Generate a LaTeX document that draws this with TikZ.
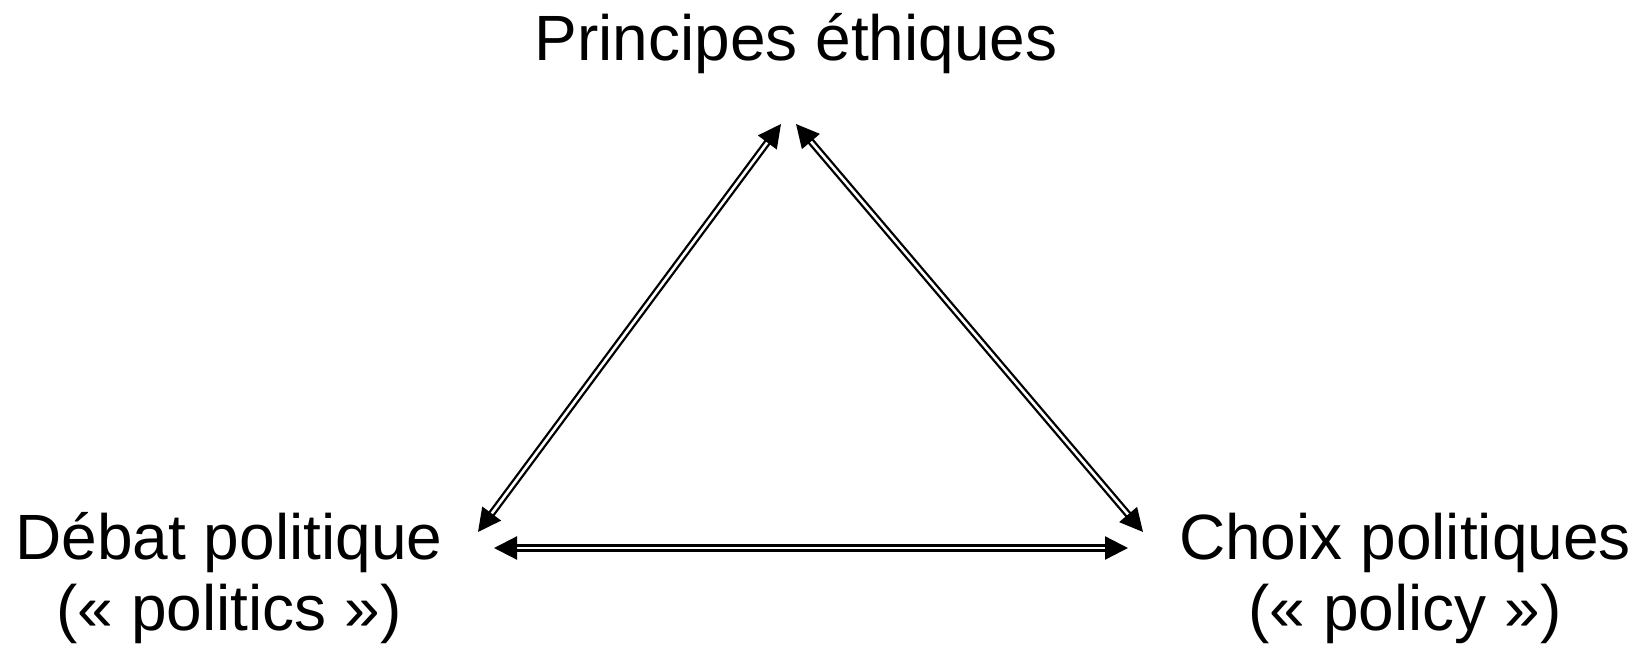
\documentclass[tikz,border=0pt]{standalone}
\usepackage{fontspec}
\setmainfont{Liberation Sans}
\usetikzlibrary{arrows.meta}
\begin{document}
\begin{tikzpicture}[x=1pt,y=-1pt,
  lbl/.style={anchor=base,inner sep=0pt,font=\fontsize{64}{70}\selectfont},
  dbl/.style={double,line width=2.3pt,double distance=2.6pt,
    {Triangle[length=23pt,width=23pt]}-{Triangle[length=23pt,width=23pt]}}]
\useasboundingbox (0,0) rectangle (1645,650);
\node[lbl] (eth) at (796,61) {Principes éthiques};
\node[lbl] (deb) at (229,559) {Débat politique};
\node[lbl] (deb2) at (229,630) {(« politics »)};
\node[lbl] (cho) at (1405,559) {Choix politiques};
\node[lbl] (cho2) at (1405,630) {(« policy »)};
\coordinate (ethL) at (781,124);
\coordinate (ethR) at (796,124);
\coordinate (debT) at (478,532);
\coordinate (debR) at (494,548);
\coordinate (choT) at (1143,532);
\coordinate (choL) at (1128,548);
\draw[dbl] (debT) -- (ethL);
\draw[dbl] (ethR) -- (choT);
\draw[dbl] (debR) -- (choL);
\end{tikzpicture}
\end{document}
